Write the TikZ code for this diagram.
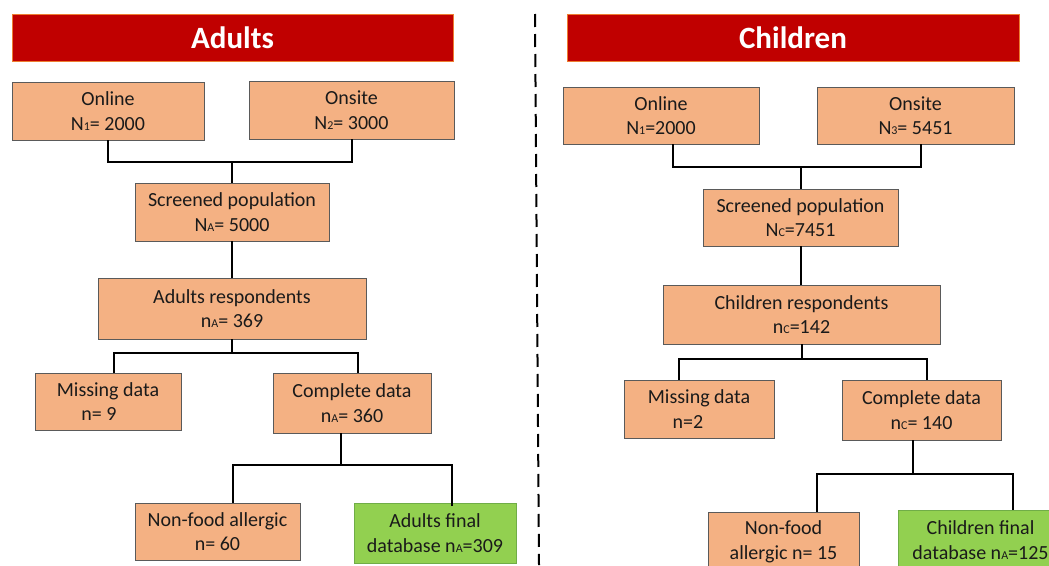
\documentclass[tikz,border=0pt]{standalone}
\usepackage{fontspec}
\setmainfont{Carlito}
\definecolor{boxfill}{HTML}{F4B183}
\definecolor{boxline}{HTML}{5A5A5A}
\definecolor{greenfill}{HTML}{92D050}
\definecolor{greenline}{HTML}{70AD47}
\definecolor{headred}{HTML}{C00000}
\definecolor{headline}{HTML}{ED7D31}
\definecolor{txt}{HTML}{1A1A1A}
\newcommand\sbs[1]{{\fontsize{12}{12}\selectfont #1}}
\tikzset{
  box/.style={draw=boxline, fill=boxfill, line width=0.9pt, align=center, inner sep=0pt,
    text=txt, font=\fontsize{20}{24.5}\selectfont},
  finalbox/.style={box, draw=greenline, fill=greenfill},
  header/.style={draw=headline, fill=headred, line width=0.9pt, text=white, inner sep=0pt,
    font=\fontsize{31}{34}\selectfont\bfseries},
  conn/.style={draw=black, line width=2pt},
  divider/.style={draw=black, line width=2pt, dash pattern=on 13pt off 7pt}
}
\begin{document}
\begin{tikzpicture}[x=1pt,y=-1pt]
\clip (0,0) rectangle (1049,565);
\fill[white] (0,0) rectangle (1049,565);
% divider
\coordinate (dtop) at (535,14);
\coordinate (dbot) at (539,565);
\draw[divider] (dtop) -- (dbot);
% ---------------- Adults ----------------
\node[header, minimum width=441pt, minimum height=47pt] (hA) at (232.5,37.5) {Adults};
\node[box, minimum width=192pt, minimum height=58pt] (aon) at (108,111) {Online\\N\sbs{1}= 2000};
\node[box, minimum width=205pt, minimum height=58pt] (aos) at (351.5,110) {Onsite\\N\sbs{2}= 3000};
\node[box, minimum width=194pt, minimum height=58pt] (ascr) at (232,212) {Screened population\\N\sbs{A}= 5000};
\node[box, minimum width=268pt, minimum height=61pt] (aresp) at (232,308.5) {Adults respondents\\n\sbs{A}= 369};
\node[box, minimum width=146pt, minimum height=57pt] (amiss) at (108,401.5) {Missing data\\n= 9\hspace*{18pt}};
\node[box, minimum width=158pt, minimum height=60pt] (acomp) at (352,403) {Complete data\\n\sbs{A}= 360};
\node[box, minimum width=165pt, minimum height=57pt] (anon) at (217.5,531.5) {Non-food allergic\\n= 60};
\node[finalbox, minimum width=162pt, minimum height=60pt] (afin) at (435,533) {Adults final\\database n\sbs{A}=309};
\coordinate (aj1) at (232,162);
\coordinate (aj2) at (232,353);
\coordinate (aj3) at (341,465);
\draw[conn] (aon.south) |- (aj1) -| (aos.south);
\draw[conn] (aj1) -- (ascr.north);
\draw[conn] (ascr.south) -- (aresp.north);
\draw[conn] (aresp.south) -- (aj2);
\draw[conn] ([xshift=6pt]amiss.north) |- (aj2) -| ([xshift=6pt]acomp.north);
\draw[conn] ([xshift=-11pt]acomp.south) -- (aj3);
\draw[conn] ([xshift=15.5pt]anon.north) |- (aj3) -| ([xshift=17pt,yshift=-3pt]afin.north);
% ---------------- Children ----------------
\node[header, minimum width=452pt, minimum height=47pt] (hC) at (793,37.5) {Children};
\node[box, minimum width=196pt, minimum height=57pt] (con) at (661,115.5) {Online\\N\sbs{1}=2000};
\node[box, minimum width=197pt, minimum height=57pt] (cos) at (915.5,115.5) {Onsite\\N\sbs{3}= 5451};
\node[box, minimum width=195pt, minimum height=57pt] (cscr) at (800.5,217.5) {Screened population\\N\sbs{C}=7451};
\node[box, minimum width=277pt, minimum height=59pt] (cresp) at (801.5,314.5) {Children respondents\\n\sbs{C}=142};
\node[box, minimum width=150pt, minimum height=58pt] (cmiss) at (699,409) {Missing data\\n=2\hspace*{22pt}};
\node[box, minimum width=159pt, minimum height=60pt] (ccomp) at (921.5,410) {Complete data\\n\sbs{C}= 140};
\node[box, minimum width=151pt, minimum height=60pt] (cnon) at (783.5,542) {Non-food\\allergic n= 15};
\node[finalbox, minimum width=165pt, minimum height=60pt] (cfin) at (980.5,540) {Children final\\database n\sbs{A}=125};
\coordinate (cj1) at (800.5,167);
\coordinate (cj2) at (801.5,359);
\coordinate (cj3) at (913,474);
\draw[conn] ([xshift=12pt]con.south) |- (cj1) -| ([xshift=5.5pt]cos.south);
\draw[conn] (cj1) -- (cscr.north);
\draw[conn] (cscr.south) -- (cscr.south |- cresp.north);
\draw[conn] (cresp.south) -- (cj2);
\draw[conn] ([xshift=-20pt]cmiss.north) |- (cj2) -| ([xshift=5.5pt]ccomp.north);
\draw[conn] ([xshift=-8.5pt]ccomp.south) -- (cj3);
\draw[conn] ([xshift=33.5pt]cnon.north) |- (cj3) -| ([xshift=32.5pt]cfin.north);
\end{tikzpicture}
\end{document}
